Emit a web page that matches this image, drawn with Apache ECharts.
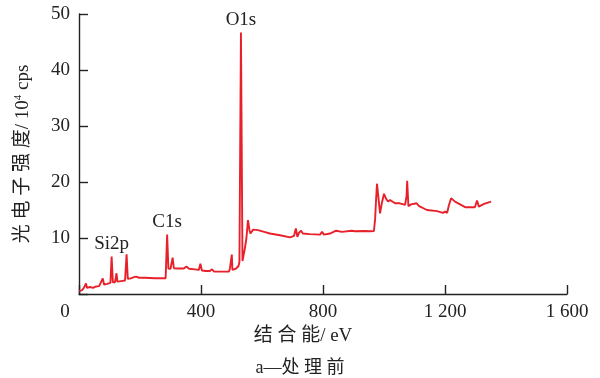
<!DOCTYPE html>
<html>
<head>
<meta charset="utf-8">
<script src="https://cdn.jsdelivr.net/npm/echarts@6/dist/echarts.min.js"></script>
<style>
  html, body { margin: 0; padding: 0; background: #fff; }
  #chart { width: 600px; height: 378px; }
</style>
</head>
<body>
<div id="chart"></div>
<script>
// XPS survey spectrum: binding energy (eV) vs. photoelectron intensity (10^4 cps)
const bindingEnergy = [
  1, 10, 16, 23, 26, 36, 46, 56, 66, 72, 78, 82, 92, 98, 103, 107, 111, 118, 123, 126,
  138, 151, 156, 160, 170, 180, 187, 197, 216, 249, 284, 289, 293, 300, 307, 311, 325, 344, 352, 361,
  380, 393, 398, 403, 416, 429, 436, 443, 469, 492, 495, 501, 503, 515, 523, 526, 531, 536, 539, 544,
  549, 554, 559, 562, 571, 587, 607, 626, 659, 692, 698, 705, 711, 716, 721, 728, 734, 757, 790, 797,
  803, 823, 843, 862, 894, 905, 938, 943, 954, 967, 971, 974, 977, 982, 987, 993, 1000, 1007, 1013, 1020,
  1036, 1052, 1069, 1074, 1076, 1080, 1089, 1095, 1107, 1115, 1141, 1174, 1193, 1200, 1207, 1213, 1220, 1226, 1233, 1266,
  1298, 1305, 1311, 1328, 1351
];
const intensity = [
  0.5, 0.7, 1.1, 1.9, 1.1, 1.25, 1.1, 1.35, 1.4, 1.6, 2.8, 1.7, 1.8, 1.9, 2.0, 6.7, 2.1, 2.1, 3.7, 2.2,
  2.3, 2.4, 7.1, 2.7, 2.8, 3.0, 3.1, 2.9, 2.9, 2.8, 2.8, 10.6, 4.55, 4.5, 6.5, 4.6, 4.55, 4.55, 4.9, 4.5,
  4.4, 4.3, 5.4, 4.2, 4.1, 4.1, 4.4, 4.0, 4.0, 4.0, 4.6, 7.05, 4.3, 4.55, 5.0, 5.7, 46.7, 5.9, 5.7, 8.2,
  10.0, 13.2, 11.4, 10.8, 11.5, 11.4, 11.1, 10.8, 10.5, 10.1, 10.1, 10.4, 11.7, 10.2, 10.9, 11.3, 10.8, 10.7, 10.6, 11.1,
  10.6, 10.8, 11.3, 11.1, 11.3, 11.2, 11.25, 11.0, 11.2, 11.25, 13.5, 16.8, 19.7, 19.6, 14.4, 16.25, 17.9, 17.0, 16.5, 16.8,
  16.2, 16.2, 15.9, 17.5, 20.2, 15.7, 16.0, 15.7, 16.2, 15.7, 15.0, 14.8, 14.5, 14.7, 14.5, 15.9, 17.1, 17.0, 16.5, 15.5,
  15.5, 16.7, 15.6, 16.1, 16.5
];
// Labelled core-level peaks (name, binding energy of the peak)
const peakNames = ['Si2p', 'C1s', 'O1s'];
const peakEnergy = [107, 289, 531];

const xTicks = [0, 400, 800, 1200, 1600];
const yTicks = [0, 10, 20, 30, 40, 50];

const serif = "'Liberation Serif', 'Noto Sans CJK SC', serif";
const ink = '#222';
const red = '#e8202a';

const lineData = bindingEnergy.map((e, i) => [e, intensity[i]]);
const peakMarks = peakNames.map((n, i) => {
  const idx = bindingEnergy.indexOf(peakEnergy[i]);
  return { name: n, coord: [peakEnergy[i], intensity[idx]] };
});

function fmtThousands(v) {
  const s = String(v);
  return s.length > 3 ? s.slice(0, s.length - 3) + ' ' + s.slice(-3) : s;
}

const chart = echarts.init(document.getElementById('chart'), null, { renderer: 'canvas' });
chart.setOption({
  animation: false,
  backgroundColor: '#fff',
  grid: { left: 79, right: 33, top: 14, height: 280 },
  title: {
    text: 'a—处 理 前',
    left: 'center',
    top: 354,
    textStyle: { fontFamily: serif, fontSize: 18, fontWeight: 'normal', color: ink }
  },
  xAxis: {
    type: 'value',
    min: xTicks[0],
    max: xTicks[xTicks.length - 1],
    interval: 400,
    name: '结 合 能/ eV',
    nameLocation: 'middle',
    nameGap: 32,
    nameTextStyle: { fontFamily: serif, fontSize: 19, color: ink, padding: [0, 40, 0, 0] },
    axisLine: { show: true, lineStyle: { color: ink, width: 1.4 } },
    axisTick: { show: true, inside: true, length: 9, lineStyle: { color: ink, width: 1.4 } },
    splitLine: { show: false },
    axisLabel: {
      margin: 9,
      fontFamily: serif,
      fontSize: 19,
      color: ink,
      formatter: v => v === 0 ? '{o|0}' : fmtThousands(v),
      rich: { o: { fontFamily: serif, fontSize: 19, color: ink, padding: [0, 28, 0, 0] } }
    }
  },
  yAxis: {
    type: 'value',
    min: yTicks[0],
    max: yTicks[yTicks.length - 1],
    interval: 10,
    name: '光 电 子 强 度/ 10{sup|4} cps',
    nameLocation: 'middle',
    nameRotate: 90,
    nameGap: 46,
    nameTextStyle: {
      fontFamily: serif, fontSize: 19, color: ink,
      rich: { sup: { fontFamily: serif, fontSize: 11, color: ink, verticalAlign: 'top', padding: [0, 0, 9, 0] } }
    },
    axisLine: { show: true, lineStyle: { color: ink, width: 1.4 } },
    axisTick: { show: true, inside: true, length: 9, lineStyle: { color: ink, width: 1.4 } },
    splitLine: { show: false },
    axisLabel: {
      margin: 9,
      fontFamily: serif,
      fontSize: 19,
      color: ink,
      formatter: v => v === 0 ? '' : String(v)
    }
  },
  series: [{
    type: 'line',
    data: lineData,
    showSymbol: false,
    symbol: 'none',
    lineStyle: { color: red, width: 1.9 },
    markPoint: {
      symbol: 'circle',
      symbolSize: 0,
      silent: true,
      label: {
        show: true,
        position: 'top',
        distance: 3,
        formatter: p => p.name,
        fontFamily: serif,
        fontSize: 19,
        color: ink
      },
      data: peakMarks
    }
  }]
});
</script>
</body>
</html>
